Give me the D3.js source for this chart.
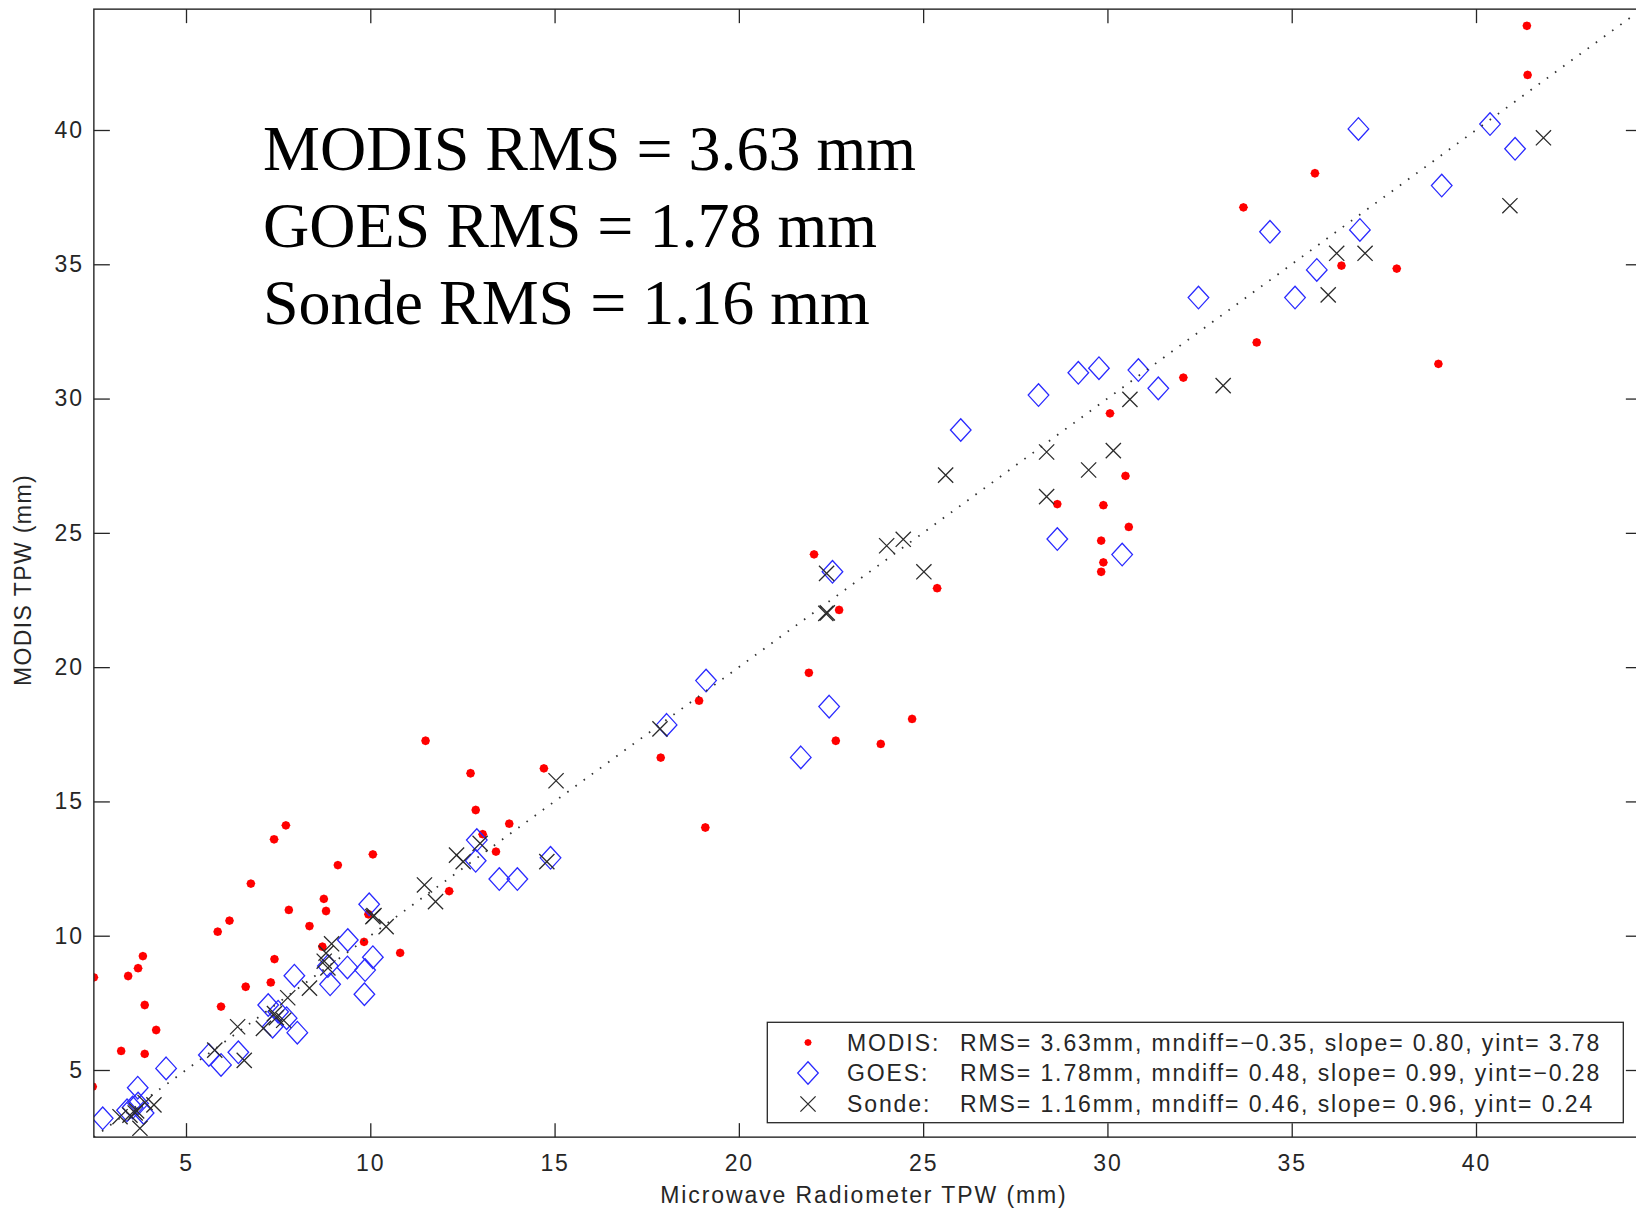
<!DOCTYPE html>
<html>
<head>
<meta charset="utf-8">
<script src="https://cdn.jsdelivr.net/npm/d3@7"></script>
<style>
  html, body { margin: 0; padding: 0; background: #ffffff; }
  svg { display: block; }
</style>
</head>
<body>
<svg id="chart" width="1636" height="1211"></svg>
<script>
// ---------------- DATA ----------------
// [Microwave Radiometer TPW, MODIS/GOES/Sonde TPW] in mm
const modisData = [
  [41.38,43.88],[41.40,42.05],[35.63,38.39],[33.69,37.12],[36.35,34.95],[37.85,34.84],
  [34.05,32.09],[38.98,31.29],[32.06,30.78],[30.07,29.45],[30.49,27.12],[28.64,26.07],
  [29.89,26.03],[30.58,25.22],[29.83,24.71],[29.89,23.90],[29.83,23.55],[25.38,22.94],
  [22.04,24.20],[22.72,22.13],[21.90,19.79],[18.92,18.75],[24.70,18.07],[22.63,17.26],
  [23.85,17.14],[17.88,16.63],[19.09,14.03],[11.50,17.26],[12.72,16.05],[14.71,16.23],
  [12.86,14.68],[13.77,14.17],[13.05,13.78],[13.41,13.13],[10.07,13.03],[9.12,12.63],
  [12.14,11.66],[8.74,11.37],[8.80,10.92],[8.35,10.36],[9.95,10.80],[7.71,14.11],
  [7.39,13.59],[6.76,11.94],[7.79,10.96],[6.18,10.56],[5.86,10.15],[9.83,9.77],
  [10.81,9.36],[7.40,9.13],[8.70,9.59],[3.83,9.24],[3.70,8.79],[3.43,8.50],
  [2.50,8.45],[6.62,8.10],[7.30,8.26],[5.95,7.36],[3.88,7.42],[4.19,6.49],
  [3.24,5.71],[3.88,5.60],[2.47,4.38]
];
const goesData = [
  [36.81,40.04],[40.38,40.22],[41.06,39.30],[39.07,37.93],[34.41,36.21],[36.85,36.28],
  [35.68,34.79],[35.09,33.76],[32.47,33.76],[31.38,30.38],[29.21,30.96],[29.77,31.13],
  [30.84,31.06],[28.13,30.13],[26.02,28.83],[28.64,24.77],[30.40,24.19],[22.54,23.55],
  [19.11,19.50],[18.04,17.85],[22.45,18.53],[21.68,16.64],[12.89,13.56],[12.86,12.79],
  [13.50,12.11],[13.99,12.11],[14.89,12.90],[9.97,11.17],[9.39,9.84],[10.07,9.20],
  [9.86,8.72],[9.38,8.82],[9.84,7.82],[8.85,8.87],[8.91,8.19],[7.94,8.51],
  [7.23,7.42],[7.50,7.17],[7.73,6.93],[8.02,6.39],[7.35,6.61],[6.42,5.66],
  [5.62,5.56],[5.95,5.19],[4.46,5.06],[3.69,4.34],[2.74,3.20],[3.40,3.50],
  [3.70,3.75],[3.85,3.40],[3.55,3.60]
];
const sondeData = [
  [41.83,39.71],[40.92,37.18],[36.22,35.41],[36.99,35.41],[35.99,33.86],[33.14,30.48],
  [30.61,29.97],[28.35,28.01],[30.16,28.06],[29.49,27.34],[25.61,27.15],[28.35,26.35],
  [24.46,24.76],[24.01,24.52],[25.02,23.55],[22.38,23.49],[22.36,22.00],[22.40,22.02],
  [17.86,17.70],[15.04,15.77],[12.98,13.44],[12.34,13.00],[12.52,12.76],[14.79,12.76],
  [11.47,11.89],[11.77,11.27],[10.07,10.71],[10.10,10.75],[10.43,10.34],[8.95,9.70],
  [8.80,9.35],[8.75,9.05],[8.85,8.80],[8.35,8.05],[7.76,7.69],[7.10,6.55],
  [7.45,6.95],[7.65,6.85],[7.40,7.10],[6.40,6.61],[5.78,5.74],[6.58,5.36],
  [4.13,3.70],[3.75,2.83],[3.21,3.26],[3.66,3.48],[3.62,3.40],[3.89,3.79],
  [3.48,3.32]
];
const axisDomain = [2.5, 44.5];       // both axes
const oneToOne = [2.5, 44.5];         // 1:1 reference line end points
const xTicks = [5, 10, 15, 20, 25, 30, 35, 40];
const yTicks = [5, 10, 15, 20, 25, 30, 35, 40];
const xLabel = "Microwave Radiometer TPW (mm)";
const yLabel = "MODIS TPW (mm)";
const rmsLines = ["MODIS RMS = 3.63 mm", "GOES RMS = 1.78 mm", "Sonde RMS = 1.16 mm"];
const legendNames = ["MODIS:", "GOES:", "Sonde:"];
const legendStats = [
  "RMS= 3.63mm, mndiff=\u22120.35, slope= 0.80, yint= 3.78",
  "RMS= 1.78mm, mndiff= 0.48, slope= 0.99, yint=\u22120.28",
  "RMS= 1.16mm, mndiff= 0.46, slope= 0.96, yint= 0.24"
];
const seriesKinds = ["dot", "diamond", "cross"];

// ---------------- LAYOUT ----------------
const svg = d3.select("#chart");
const axisColor = "#262626";
const sansFont = "'Liberation Sans', Arial, Helvetica, sans-serif";
const serifFont = "'Liberation Serif', 'Times New Roman', serif";

const x = d3.scaleLinear().domain(axisDomain).range([93.86, 1641.86]);
const y = d3.scaleLinear().domain(axisDomain).range([1137.14, 9.14]);
const [x0, x1] = x.range();
const [y0, y1] = y.range();

// marker shapes
const dotPath = "M0,-4.4L3.2,-3.2L4.4,0L3.2,3.2L0,4.4L-3.2,3.2L-4.4,0L-3.2,-3.2Z";
const dotPathSmall = "M0,-3.6L2.6,-2.6L3.6,0L2.6,2.6L0,3.6L-2.6,2.6L-3.6,0L-2.6,-2.6Z";
const diamondPath = "M0,-11.3L10.3,0L0,11.3L-10.3,0Z";
const crossPath = "M-7.6,-7.6L7.6,7.6M-7.6,7.6L7.6,-7.6";

function drawMarker(sel, kind) {
  if (kind === "dot") {
    sel.append("path").attr("d", dotPathSmall).attr("fill", "#ff0000");
  } else if (kind === "diamond") {
    sel.append("path").attr("d", diamondPath).attr("fill", "none")
      .attr("stroke", "#2a2aff").attr("stroke-width", 1.3);
  } else {
    sel.append("path").attr("d", crossPath).attr("fill", "none")
      .attr("stroke", "#2b2b2b").attr("stroke-width", 1.3);
  }
}

// clip
svg.append("defs").append("clipPath").attr("id", "plotclip")
  .append("rect").attr("x", x0).attr("y", y1).attr("width", x1 - x0).attr("height", y0 - y1);

const plot = svg.append("g").attr("clip-path", "url(#plotclip)");

// MODIS dots
plot.append("g").selectAll("path").data(modisData).join("path")
  .attr("transform", d => `translate(${x(d[0])},${y(d[1])})`)
  .attr("d", dotPath).attr("fill", "#ff0000");

// GOES diamonds
plot.append("g").selectAll("path").data(goesData).join("path")
  .attr("transform", d => `translate(${x(d[0])},${y(d[1])})`)
  .attr("d", diamondPath).attr("fill", "none")
  .attr("stroke", "#2a2aff").attr("stroke-width", 1.3);

// Sonde crosses
plot.append("g").selectAll("path").data(sondeData).join("path")
  .attr("transform", d => `translate(${x(d[0])},${y(d[1])})`)
  .attr("d", crossPath).attr("fill", "none")
  .attr("stroke", "#2b2b2b").attr("stroke-width", 1.3);

// 1:1 dotted line
plot.append("path")
  .datum(oneToOne)
  .attr("d", d3.line().x(v => x(v)).y(v => y(v)))
  .attr("fill", "none").attr("stroke", "#333333").attr("stroke-width", 1.8)
  .attr("stroke-linecap", "butt").attr("stroke-dasharray", "1.6 8.5");

// ---------------- AXES ----------------
function styleAxis(g) {
  g.select(".domain").remove();
  g.selectAll(".tick line").attr("stroke", axisColor).attr("stroke-width", 1.3);
  g.selectAll(".tick text").attr("fill", axisColor)
    .attr("font-family", sansFont).attr("font-size", 23)
    .style("letter-spacing", "1.9px");
}

svg.append("g").attr("transform", `translate(0,${y0})`)
  .call(d3.axisBottom(x).tickValues(xTicks).tickSize(-14).tickSizeOuter(0).tickPadding(17.5).tickFormat(d3.format("d")))
  .call(styleAxis);
svg.append("g").attr("transform", `translate(0,${y1})`)
  .call(d3.axisTop(x).tickValues(xTicks).tickSize(-14).tickSizeOuter(0).tickFormat(""))
  .call(styleAxis);
svg.append("g").attr("transform", `translate(${x0},0)`)
  .call(d3.axisLeft(y).tickValues(yTicks).tickSize(-16).tickSizeOuter(0).tickPadding(10).tickFormat(d3.format("d")))
  .call(styleAxis);
svg.append("g").attr("transform", `translate(${x1},0)`)
  .call(d3.axisRight(y).tickValues(yTicks).tickSize(-16).tickSizeOuter(0).tickFormat(""))
  .call(styleAxis);

// frame
svg.append("rect").attr("x", x0).attr("y", y1).attr("width", x1 - x0).attr("height", y0 - y1)
  .attr("fill", "none").attr("stroke", axisColor).attr("stroke-width", 1.4);

// axis labels
svg.append("text").attr("x", (x0 + 1636) / 2 - 1).attr("y", 1203)
  .attr("text-anchor", "middle").attr("fill", axisColor)
  .attr("font-family", sansFont).attr("font-size", 23).style("letter-spacing", "1.9px")
  .text(xLabel);
svg.append("text").attr("transform", "translate(31,580) rotate(-90)")
  .attr("text-anchor", "middle").attr("fill", axisColor)
  .attr("font-family", sansFont).attr("font-size", 23).style("letter-spacing", "1.4px")
  .text(yLabel);

// ---------------- RMS annotation ----------------
svg.append("g").selectAll("text").data(rmsLines).join("text")
  .attr("x", 263).attr("y", (d, i) => 170 + i * 77)
  .attr("font-family", serifFont).attr("font-size", 64).attr("fill", "#000")
  .text(d => d);

// ---------------- LEGEND ----------------
const legend = svg.append("g");
legend.append("rect").attr("x", 767.3).attr("y", 1022.3).attr("width", 856).attr("height", 100.4)
  .attr("fill", "#ffffff").attr("stroke", axisColor).attr("stroke-width", 1.3);
const rowCenters = [1042.5, 1073, 1104];
legendNames.forEach((name, i) => {
  const mk = legend.append("g").attr("transform", `translate(808,${rowCenters[i]})`);
  drawMarker(mk, seriesKinds[i]);
  legend.append("text").attr("x", 847).attr("y", rowCenters[i] + 8)
    .attr("font-family", sansFont).attr("font-size", 23).attr("fill", axisColor)
    .style("letter-spacing", "1.9px").text(name);
  legend.append("text").attr("x", 960).attr("y", rowCenters[i] + 8)
    .attr("font-family", sansFont).attr("font-size", 23).attr("fill", axisColor)
    .style("letter-spacing", "1.9px").text(legendStats[i]);
});
</script>
</body>
</html>
